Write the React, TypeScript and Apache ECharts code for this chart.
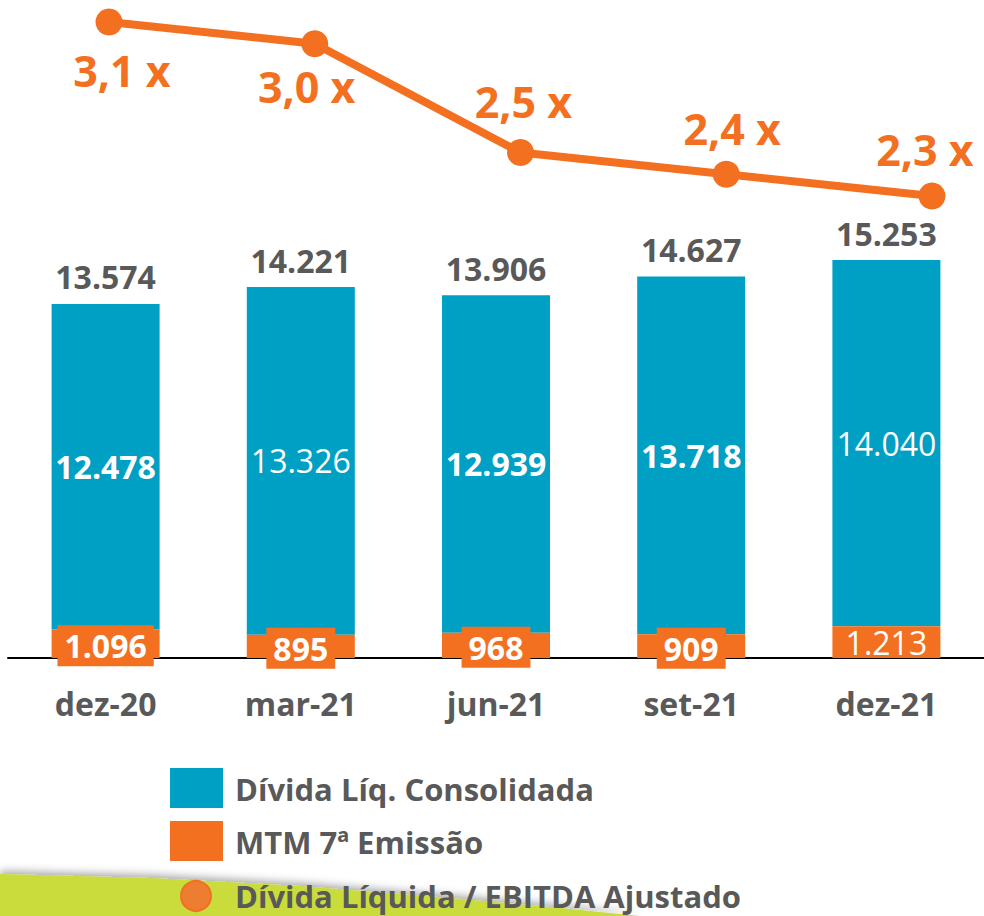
import React, { useEffect, useRef } from "react";
import * as echarts from "echarts";

const categories = ["dez-20", "mar-21", "jun-21", "set-21", "dez-21"];
const mtmValues = [1096, 895, 968, 909, 1213];
const dividaValues = [12478, 13326, 12939, 13718, 14040];
const totalValues = [13574, 14221, 13906, 14627, 15253];
const ratioValues = [3.1, 3.0, 2.5, 2.4, 2.3];
const dividaBold = [true, false, true, true, false];
const mtmBoxed = [true, true, true, true, false];
const ratioLabelOffsets = [
  [13, 48],
  [-8, 43],
  [3, -51],
  [6, -46],
  [-7, -47],
];
const legendNames = ["Dívida Líq. Consolidada", "MTM 7ª Emissão", "Dívida Líquida / EBITDA Ajustado"];

const BLUE = "#00A0C4";
const ORANGE = "#F37021";
const GRAY = "#595959";
const FONT = "Open Sans";

function fmt(v: number): string {
  const s = Math.round(v).toString();
  return s.replace(/\B(?=(\d{3})+(?!\d))/g, ".");
}

export default function App() {
  const ref = useRef<HTMLDivElement>(null);
  useEffect(() => {
    if (!ref.current) return;
    const chart = echarts.init(ref.current, undefined, { renderer: "svg" });
    const option: any = {
      animation: false,
      backgroundColor: "#ffffff",
      grid: [
        { left: 8, top: 240.6, width: 977.5, height: 417.4 },
        { left: 109, top: 22, width: 823, height: 174 },
      ],
      xAxis: [
        {
          type: "category",
          gridIndex: 0,
          data: categories,
          axisLine: { lineStyle: { color: "#000", width: 2 } },
          axisTick: { show: false },
          axisLabel: {
            margin: 29,
            color: GRAY,
            fontFamily: FONT,
            fontWeight: "bold",
            fontSize: 32,
            lineHeight: 32,
          },
          z: 2,
        },
        {
          type: "category",
          gridIndex: 1,
          data: categories,
          boundaryGap: false,
          show: false,
        },
      ],
      yAxis: [
        { type: "value", gridIndex: 0, min: 0, max: 16000, show: false, splitLine: { show: false } },
        { type: "value", gridIndex: 1, min: 2.3, max: 3.1, show: false, splitLine: { show: false } },
      ],
      series: [
        {
          name: "totals",
          type: "bar",
          xAxisIndex: 0,
          yAxisIndex: 0,
          data: totalValues,
          barWidth: 108,
          barGap: "-100%",
          itemStyle: { color: "rgba(0,0,0,0)" },
          z: 1,
          label: {
            show: true,
            position: "top",
            distance: 11,
            color: GRAY,
            fontFamily: FONT,
            fontWeight: "bold",
            fontSize: 32,
            lineHeight: 32,
            formatter: (p: any) => fmt(p.value),
          },
          silent: true,
        },
        {
          name: legendNames[1],
          type: "bar",
          stack: "debt",
          xAxisIndex: 0,
          yAxisIndex: 0,
          barWidth: 108,
          z: 4,
          itemStyle: { color: ORANGE },
          data: mtmValues.map((v, i) => ({
            value: v,
            label: mtmBoxed[i]
              ? {
                  show: true,
                  position: "inside",
                  offset: [0, 2],
                  color: "#ffffff",
                  fontFamily: FONT,
                  fontWeight: "bold",
                  fontSize: 32,
                  lineHeight: 33,
                  backgroundColor: ORANGE,
                  padding: [4, 7],
                  formatter: (p: any) => fmt(p.value),
                }
              : {
                  show: true,
                  position: "inside",
                  color: "#ffffff",
                  fontFamily: FONT,
                  fontWeight: "normal",
                  fontSize: 32,
                  lineHeight: 33,
                  formatter: (p: any) => fmt(p.value),
                },
          })),
        },
        {
          name: legendNames[0],
          type: "bar",
          stack: "debt",
          xAxisIndex: 0,
          yAxisIndex: 0,
          barWidth: 108,
          z: 3,
          itemStyle: { color: BLUE },
          data: dividaValues.map((v, i) => ({
            value: v,
            label: {
              show: true,
              position: "inside",
              color: "#ffffff",
              fontFamily: FONT,
              fontWeight: dividaBold[i] ? "bold" : "normal",
              fontSize: 32,
              lineHeight: 32,
              formatter: (p: any) => fmt(p.value),
            },
          })),
        },
        {
          name: legendNames[2],
          type: "line",
          xAxisIndex: 1,
          yAxisIndex: 1,
          symbol: "circle",
          symbolSize: 27,
          lineStyle: { color: ORANGE, width: 8 },
          itemStyle: { color: ORANGE },
          z: 5,
          data: ratioValues.map((v, i) => ({
            value: v,
            label: {
              show: true,
              position: "inside",
              offset: ratioLabelOffsets[i],
              color: ORANGE,
              fontFamily: FONT,
              fontWeight: "bold",
              fontSize: 43,
              lineHeight: 43,
              formatter: (p: any) => p.value.toFixed(1).replace(".", ",") + " x",
            },
          })),
        },
      ],
      graphic: [
        {
          type: "polygon",
          z: 0,
          shape: {
            points: [
              [0, 874],
              [150, 878],
              [300, 886],
              [450, 898],
              [560, 908],
              [640, 916],
              [0, 916],
            ],
          },
          style: {
            fill: "#C9DC3A",
            shadowBlur: 8,
            shadowColor: "rgba(0,0,0,0.35)",
            shadowOffsetY: -3,
          },
        },
        { type: "rect", shape: { x: 170, y: 768, width: 53, height: 40 }, style: { fill: BLUE } },
        { type: "rect", shape: { x: 170, y: 821, width: 53, height: 40 }, style: { fill: ORANGE } },
        {
          type: "circle",
          shape: { cx: 196, cy: 896, r: 15 },
          style: { fill: "#ED7D31", stroke: ORANGE, lineWidth: 2 },
        },
        ...legendNames.map((name, i) => ({
          type: "text",
          x: 235,
          y: [789, 842, 896][i],
          style: {
            text: name,
            fill: GRAY,
            font: `bold 31px "${FONT}"`,
            textVerticalAlign: "middle",
            textAlign: "left",
          },
        })),
      ],
    };
    chart.setOption(option);
    return () => chart.dispose();
  }, []);
  return (
    <div
      ref={ref}
      style={{ position: "fixed", left: 0, top: 0, width: 984, height: 916 }}
    />
  );
}
